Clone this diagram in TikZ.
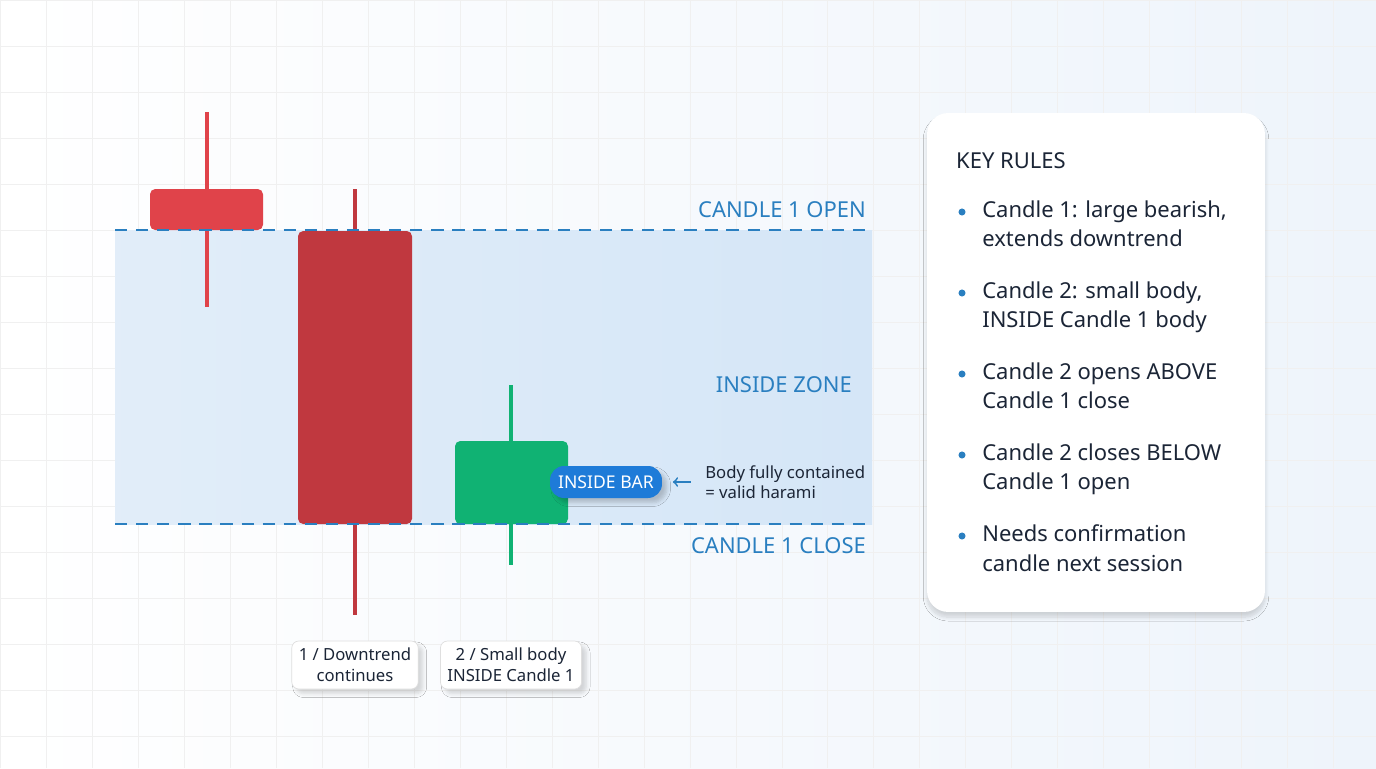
\documentclass[tikz,border=0pt]{standalone}
\usepackage{fontspec}
\setmainfont{Noto Sans}
\usetikzlibrary{calc}
\usetikzlibrary{positioning}
\usetikzlibrary{shadows.blur}
\definecolor{ZoneBlue}{HTML}{D5E6F7}
\definecolor{LineBlue}{HTML}{2A7FC0}
\definecolor{BearLight}{HTML}{E0434A}
\definecolor{BearDark}{HTML}{C0383F}
\definecolor{BullGreen}{HTML}{10B273}
\definecolor{PillBlue}{HTML}{1E7BD8}
\definecolor{InkDark}{HTML}{1B2536}
\definecolor{BgBlue}{HTML}{EEF4FB}
\tikzset{
  level/.style={LineBlue,dashed,line width=1.2pt,dash pattern=on 7pt off 5pt},
  levellabel/.style={LineBlue,anchor=east,font=\fontsize{12.5}{14}\selectfont},
  wick/.style={line width=2.2pt},
  body/.style={rounded corners=3pt},
  caption/.style={draw=gray!25,fill=white,rounded corners=4pt,align=center,
    inner sep=4pt,blur shadow={shadow blur steps=5,shadow opacity=15},
    font=\fontsize{9.5}{12}\selectfont,text=InkDark},
  rule/.style={anchor=north west,align=left,text=InkDark,
    font=\fontsize{12.5}{17}\selectfont,inner sep=0pt},
  dot/.style={circle,fill=LineBlue,inner sep=0pt,minimum size=4pt}
}
\begin{document}
\begin{tikzpicture}[x=0.02cm,y=-0.02cm]
  \useasboundingbox (0,0) rectangle (1376,768);
  \fill[left color=white,right color=BgBlue] (0,0) rectangle (1376,768);
  \draw[gray!12,step=0.92cm] (0,0) grid (1376,768);

  % zone
  \fill[left color=ZoneBlue!70,right color=ZoneBlue] (115,230) rectangle (872,524);
  \coordinate (openL) at (115,230);
  \coordinate (openR) at (872,230);
  \coordinate (closeL) at (115,524);
  \coordinate (closeR) at (872,524);
  \node[levellabel] at (872,210) {CANDLE 1 OPEN};
  \node[levellabel] at (858,385) {INSIDE ZONE};
  \node[levellabel] at (872,546) {CANDLE 1 CLOSE};

  % candles
  \draw[wick,BearLight] (207,112) -- (207,307);
  \fill[body,BearLight] (150,189) rectangle (263,230);
  \draw[wick,BearDark] (355,189) -- (355,615);
  \fill[body,BearDark] (298,231) rectangle (412,524);
  \draw[wick,BullGreen] (511,385) -- (511,565);
  \fill[body,BullGreen] (455,441) rectangle (568,524);

  \draw[level] (openL) -- (openR);
  \draw[level] (closeL) -- (closeR);

  % inside bar
  \node[fill=PillBlue,text=white,rounded corners=8pt,minimum width=2.24cm,minimum height=0.64cm,
    font=\bfseries\fontsize{10}{12}\selectfont,blur shadow={shadow blur steps=5,shadow opacity=20}]
    (pill) at (606,482) {INSIDE BAR};
  \node[anchor=west,align=left,text=InkDark,font=\fontsize{9.5}{11.5}\selectfont,inner sep=0pt]
    (note) at (705,482) {Body fully contained\\= valid harami};
  \draw[->,LineBlue,line width=1pt] ([xshift=-8pt]note.west) -- ([xshift=6pt]pill.east);

  % captions
  \node[caption,minimum width=2.48cm] (cap1) at (355,665) {1 / Downtrend\\continues};
  \node[caption,minimum width=2.78cm] (cap2) at (511,665) {2 / Small body\\INSIDE Candle 1};

  % key rules
  \node[fill=white,rounded corners=12pt,minimum width=6.76cm,minimum height=9.98cm,
    blur shadow={shadow blur steps=8,shadow opacity=15,shadow xshift=0pt,shadow yshift=-3pt}]
    (panel) at (1096,362.5) {};
  \node[anchor=west,text=InkDark,font=\fontsize{12.5}{14}\selectfont] (title) at (950,161) {KEY RULES};
  \foreach \y/\txt in {200/{Candle 1: large bearish,\\extends downtrend},
                       281/{Candle 2: small body,\\INSIDE Candle 1 body},
                       362/{Candle 2 opens ABOVE\\Candle 1 close},
                       443/{Candle 2 closes BELOW\\Candle 1 open},
                       524/{Needs confirmation\\candle next session}} {
    \node[dot] at (962,\y+12) {};
    \node[rule] at (982,\y) {\txt};
  }
\end{tikzpicture}
\end{document}
